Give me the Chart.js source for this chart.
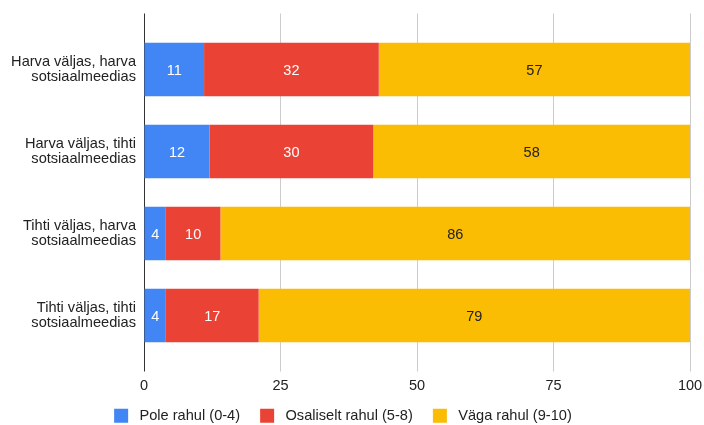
<!DOCTYPE html>
<html>
<head>
<meta charset="utf-8">
<script src="https://cdn.jsdelivr.net/npm/chart.js@4.4.1/dist/chart.umd.min.js"></script>
<style>
  html, body { margin: 0; padding: 0; background: #fff; }
  #wrap { width: 704px; height: 425px; }
</style>
</head>
<body>
<div id="wrap"><canvas id="satisfaction"></canvas></div>
<script>
// categories (two-line labels) and series values, percent
const categories = [
  ['Harva väljas, harva', 'sotsiaalmeedias'],
  ['Harva väljas, tihti', 'sotsiaalmeedias'],
  ['Tihti väljas, harva', 'sotsiaalmeedias'],
  ['Tihti väljas, tihti', 'sotsiaalmeedias']
];
const seriesNames = ['Pole rahul (0-4)', 'Osaliselt rahul (5-8)', 'Väga rahul (9-10)'];
const poleRahul = [11, 12, 4, 4];
const osaliseltRahul = [32, 30, 10, 17];
const vagaRahul = [57, 58, 86, 79];
const xTicks = [0, 25, 50, 75, 100];

const FONT = '"Liberation Sans", Arial, sans-serif';

// zero line darker than the rest of the grid
const gridColor = (c) => (c.tick && c.tick.value === 0 ? '#333333' : '#cccccc');

// value written in the middle of every segment
const segmentLabels = {
  id: 'segmentLabels',
  afterDatasetsDraw(chart) {
    const ctx = chart.ctx;
    ctx.save();
    ctx.font = '14.5px ' + FONT;
    ctx.textAlign = 'center';
    ctx.textBaseline = 'middle';
    chart.data.datasets.forEach((ds, i) => {
      const meta = chart.getDatasetMeta(i);
      meta.data.forEach((bar, j) => {
        ctx.fillStyle = ds.labelColor;
        ctx.fillText(String(ds.data[j]), (bar.x + bar.base) / 2, bar.y + 1);
      });
    });
    ctx.restore();
  }
};

// keep the legend row compact
const legendHeight = {
  id: 'legendHeight',
  beforeLayout(chart) {
    const lg = chart.legend;
    if (lg && !lg._patched) {
      const fit = lg.fit;
      lg.fit = function () {
        fit.call(this);
        this.height = 32.5;
      };
      lg._patched = true;
    }
  }
};

new Chart(document.getElementById('satisfaction'), {
  type: 'bar',
  data: {
    labels: categories,
    datasets: [
      { label: seriesNames[0], data: poleRahul, backgroundColor: '#4285F4', labelColor: '#ffffff' },
      { label: seriesNames[1], data: osaliseltRahul, backgroundColor: '#EA4335', labelColor: '#ffffff' },
      { label: seriesNames[2], data: vagaRahul, backgroundColor: '#FBBC04', labelColor: '#222222' }
    ]
  },
  options: {
    indexAxis: 'y',
    responsive: true,
    maintainAspectRatio: false,
    animation: false,
    datasets: {
      bar: { categoryPercentage: 1, barPercentage: 0.65, borderWidth: 0 }
    },
    layout: { padding: { top: 13.5, left: 0, right: 14, bottom: 0 } },
    scales: {
      x: {
        stacked: true,
        min: 0,
        max: 100,
        afterBuildTicks: (s) => { s.ticks = xTicks.map(v => ({ value: v })); },
        afterFit: (s) => { s.height = 36; s.paddingLeft = 0; s.paddingRight = 0; },
        border: { display: false },
        grid: { color: gridColor, lineWidth: 1, drawTicks: true, tickLength: 15 },
        ticks: { color: '#222222', font: { family: FONT, size: 14.5 }, padding: 6 }
      },
      xTop: {
        type: 'linear',
        position: 'top',
        axis: 'x',
        min: 0,
        max: 100,
        afterBuildTicks: (s) => { s.ticks = xTicks.map(v => ({ value: v })); },
        afterFit: (s) => { s.paddingLeft = 0; s.paddingRight = 0; },
        border: { display: false },
        grid: { color: gridColor, drawOnChartArea: false, drawTicks: true, tickLength: 15 },
        ticks: { display: false }
      },
      y: {
        stacked: true,
        afterFit: (s) => { s.width = 144; },
        border: { display: false },
        grid: { display: false, drawTicks: false },
        ticks: {
          color: '#222222',
          padding: 8,
          font: { family: FONT, size: 14.6, lineHeight: 1.08 }
        }
      }
    },
    plugins: {
      legend: {
        position: 'bottom',
        labels: {
          boxWidth: 14,
          boxHeight: 14,
          padding: 16,
          color: '#222222',
          font: { family: FONT, size: 14.6 },
          generateLabels(chart) {
            const items = Chart.defaults.plugins.legend.labels.generateLabels(chart);
            items.forEach(it => { it.text = '\u00a0' + it.text + '\u00a0'; it.lineWidth = 0; });
            return items;
          }
        }
      },
      tooltip: { enabled: false }
    }
  },
  plugins: [segmentLabels, legendHeight]
});
</script>
</body>
</html>
